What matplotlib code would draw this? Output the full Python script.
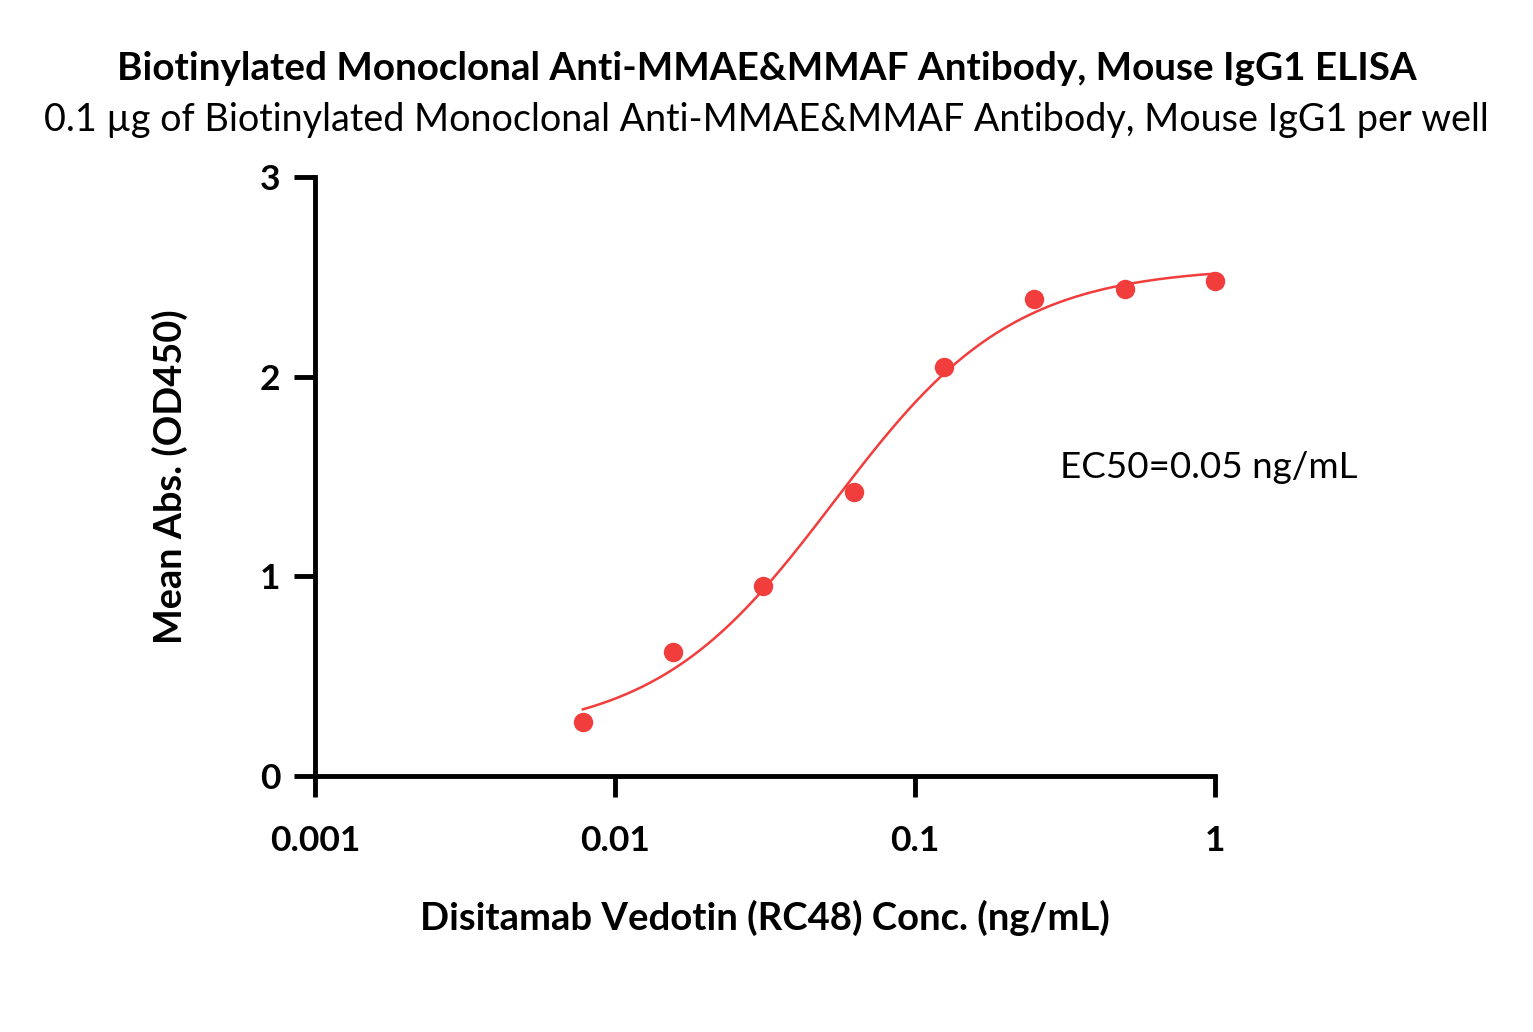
import numpy as np
import matplotlib
matplotlib.use("Agg")
import matplotlib.pyplot as plt

conc = [0.0078125, 0.015625, 0.03125, 0.0625, 0.125, 0.25, 0.5, 1.0]
absorbance = [0.27, 0.62, 0.95, 1.42, 2.05, 2.39, 2.44, 2.48]
x_ticks = [0.001, 0.01, 0.1, 1]
x_tick_labels = ["0.001", "0.01", "0.1", "1"]
y_ticks = [0, 1, 2, 3]

RED = "#F23D3D"
plt.rcParams["font.family"] = ["Lato", "DejaVu Sans"]


def fit_4pl(x, y):
    # grid search over ec50 / hill, bottom & top solved linearly
    lx = np.log10(x)
    best = None
    for lec in np.linspace(-2, 0, 401):
        for h in np.linspace(0.5, 3, 251):
            s = 1.0 / (1.0 + 10 ** ((lec - lx) * h))
            A = np.column_stack([1 - s, s])
            coef, *_ = np.linalg.lstsq(A, y, rcond=None)
            err = np.sum((A @ coef - y) ** 2)
            if best is None or err < best[0]:
                best = (err, coef[0], coef[1], lec, h)
    return best[1:]


def plot_curve():
    x = np.array(conc)
    y = np.array(absorbance)
    bottom, top, lec, h = fit_4pl(x, y)
    xs = np.logspace(np.log10(x.min()), np.log10(x.max()), 300)
    ys = bottom + (top - bottom) / (1 + 10 ** ((lec - np.log10(xs)) * h))

    fig = plt.figure(figsize=(15.33, 10.32), dpi=100)
    ax = fig.add_axes([0.2055, 0.2481, 0.5871, 0.5804])
    ax.plot(xs, ys, color=RED, lw=1.8, zorder=2, clip_on=False)
    ax.plot(x, y, "o", color=RED, ms=14, mec="none", zorder=3, clip_on=False)

    ax.set_xscale("log")
    ax.set_xlim(0.001, 1)
    ax.set_ylim(0, 3)
    ax.set_xticks(x_ticks)
    ax.set_xticklabels(x_tick_labels)
    ax.minorticks_off()
    ax.set_yticks(y_ticks)

    for s in ["top", "right"]:
        ax.spines[s].set_visible(False)
    for s in ["left", "bottom"]:
        ax.spines[s].set_linewidth(3.5)
    ax.tick_params(width=3.5, length=15, labelsize=25.5)
    ax.tick_params(axis="x", pad=20)
    ax.tick_params(axis="y", pad=10)
    for lab in ax.get_xticklabels() + ax.get_yticklabels():
        lab.set_fontweight("bold")

    ax.set_xlabel("Disitamab Vedotin (RC48) Conc. (ng/mL)", fontsize=27.5,
                  fontweight="bold", labelpad=31)
    ax.set_ylabel("Mean Abs. (OD450)", fontsize=27.3, fontweight="bold", labelpad=52)

    ax.text(0.304, 1.547, "EC50=0.05 ng/mL", fontsize=26.5, va="center")

    fig.text(0.5, 0.934, "Biotinylated Monoclonal Anti-MMAE&MMAF Antibody, Mouse IgG1 ELISA",
             ha="center", va="center", fontsize=27.8, fontweight="bold")
    fig.text(0.5, 0.884, "0.1 \u00b5g of Biotinylated Monoclonal Anti-MMAE&MMAF Antibody, Mouse IgG1 per well",
             ha="center", va="center", fontsize=27.2)

    fig.savefig("out.png", dpi=100)
    plt.close(fig)


if __name__ == "__main__":
    plot_curve()
